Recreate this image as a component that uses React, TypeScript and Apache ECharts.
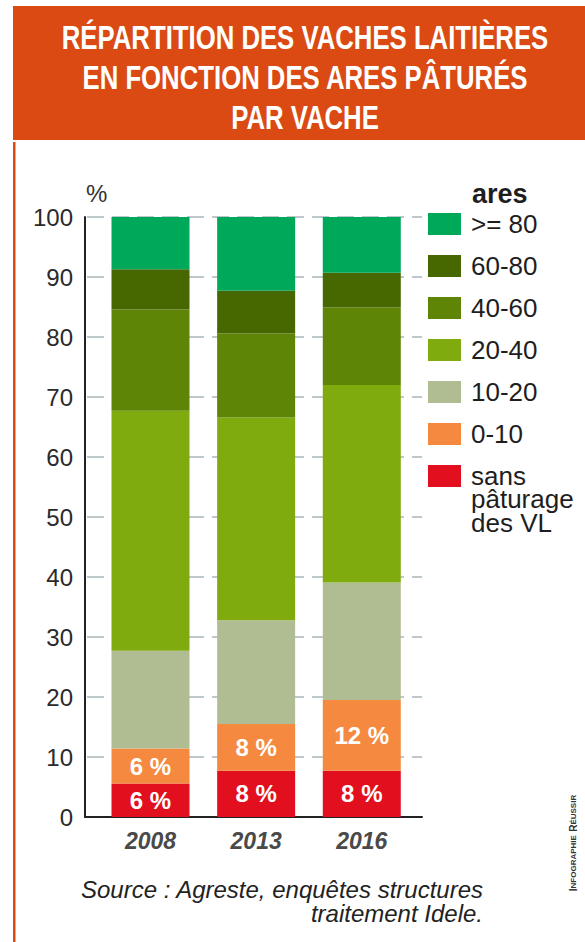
import React, { useEffect, useRef } from "react";
import * as echarts from "echarts";

const YEARS = ["2008", "2013", "2016"];
const YEAR_POS = [0, 1, 2];
const NAME_SANS = "sans pâturage des VL";
const SANS = [5.6, 7.7, 7.7];
const A0_10 = [5.8, 7.8, 11.8];
const A10_20 = [16.3, 17.3, 19.6];
const A20_40 = [40.0, 33.8, 32.9];
const A40_60 = [16.9, 14.0, 12.9];
const A60_80 = [6.7, 7.1, 5.8];
const A80 = [8.7, 12.3, 9.3];
const Y_MIN = 0;
const Y_MAX = 100;
const Y_STEP = 10;

const TITLE = "RÉPARTITION DES VACHES LAITIÈRES\nEN FONCTION DES ARES PÂTURÉS\nPAR VACHE";
const SOURCE = "Source : Agreste, enquêtes structures\ntraitement Idele.";
const SANS_REST = "pâturage\ndes VL";

const ORANGE = "#DA4A12";
const SANS_FONT = '"Liberation Sans", Arial, sans-serif';

const SERIES = [
  { name: NAME_SANS, values: SANS, color: "#E2101F", label: true },
  { name: "0-10", values: A0_10, color: "#F68940", label: true },
  { name: "10-20", values: A10_20, color: "#B0BC91", label: false },
  { name: "20-40", values: A20_40, color: "#80AB0E", label: false },
  { name: "40-60", values: A40_60, color: "#5E8505", label: false },
  { name: "60-80", values: A60_80, color: "#476700", label: false },
  { name: ">= 80", values: A80, color: "#00A859", label: false },
];

export default function App() {
  const ref = useRef<HTMLDivElement>(null);

  useEffect(() => {
    if (!ref.current) return;
    const chart = echarts.init(ref.current, null, { renderer: "svg" });

    const series = SERIES.map((s) => ({
      type: "bar",
      name: s.name,
      stack: "total",
      barWidth: 78,
      // value first so that it is the stacked dimension; position second
      data: s.values.map((v, i) => [v, YEAR_POS[i]]),
      encode: { x: 1, y: 0 },
      itemStyle: { color: s.color },
      label: s.label
        ? {
            show: true,
            position: "inside",
            formatter: (p: any) => Math.round(p.value[0]) + " %",
            color: "#ffffff",
            fontFamily: SANS_FONT,
            fontWeight: "bold",
            fontSize: 24,
          }
        : { show: false },
    }));

    const legendData = SERIES.slice()
      .reverse()
      .map((s) => ({ name: s.name }));

    chart.setOption({
      animation: false,
      backgroundColor: "#ffffff",
      grid: { left: 85, top: 217, width: 337, bottom: 125, containLabel: false },
      xAxis: {
        type: "value",
        min: -0.62,
        max: 2.57,
        axisLine: { show: true, onZero: false, lineStyle: { color: "#222222", width: 2 } },
        axisTick: { show: false },
        splitLine: { show: false },
        axisLabel: {
          customValues: YEAR_POS,
          formatter: (v: number) => YEARS[Math.round(v)] ?? "",
          fontFamily: SANS_FONT,
          fontWeight: "bold",
          fontStyle: "italic",
          fontSize: 23,
          color: "#4a4a4a",
          margin: 12,
        },
      },
      yAxis: {
        type: "value",
        min: Y_MIN,
        max: Y_MAX,
        interval: Y_STEP,
        name: "%",
        nameLocation: "end",
        nameGap: 24,
        nameTextStyle: {
          fontFamily: SANS_FONT,
          fontSize: 24,
          color: "#333333",
          align: "left",
          verticalAlign: "middle",
          padding: [0, 0, 0, 1],
        },
        axisLine: { show: true, onZero: false, lineStyle: { color: "#222222", width: 2 } },
        axisTick: { show: false },
        axisLabel: {
          fontFamily: SANS_FONT,
          fontSize: 24,
          color: "#2a2a2a",
          margin: 12,
        },
        splitLine: {
          show: true,
          lineStyle: { color: "#A9B5BC", width: 1.5, type: [17, 8], dashOffset: -2 },
        },
      },
      legend: {
        orient: "vertical",
        left: 428,
        top: 211,
        padding: 0,
        itemWidth: 33,
        itemHeight: 22,
        itemGap: 16,
        icon: "rect",
        selectedMode: false,
        data: legendData,
        formatter: (name: string) => (name === NAME_SANS ? "sans" : name),
        textStyle: {
          fontFamily: SANS_FONT,
          fontSize: 26,
          color: "#1e1e1e",
          lineHeight: 22,
          padding: [0, 0, 0, 5],
        },
      },
      graphic: [
        {
          type: "rect",
          shape: { x: 13, y: 6, width: 572, height: 134 },
          style: { fill: ORANGE },
          silent: true,
        },
        {
          type: "rect",
          shape: { x: 13, y: 142, width: 2.5, height: 800 },
          style: { fill: ORANGE },
          silent: true,
        },
        {
          type: "text",
          x: 305,
          y: 77,
          scaleX: 0.78,
          style: {
            text: TITLE,
            fill: "#ffffff",
            font: "bold 33px " + SANS_FONT,
            align: "center",
            verticalAlign: "middle",
            lineHeight: 40,
          },
          silent: true,
        },
        {
          type: "text",
          x: 472,
          y: 194,
          style: {
            text: "ares",
            fill: "#1e1e1e",
            font: "bold 27px " + SANS_FONT,
            align: "left",
            verticalAlign: "middle",
          },
          silent: true,
        },
        {
          type: "text",
          x: 471,
          y: 511,
          style: {
            text: SANS_REST,
            fill: "#1e1e1e",
            font: "26px " + SANS_FONT,
            align: "left",
            verticalAlign: "middle",
            lineHeight: 24,
          },
          silent: true,
        },
        {
          type: "text",
          x: 483,
          y: 901,
          style: {
            text: SOURCE,
            fill: "#222222",
            font: "italic 24px " + SANS_FONT,
            align: "right",
            verticalAlign: "middle",
            lineHeight: 24,
          },
          silent: true,
        },
        {
          type: "text",
          x: 573,
          y: 843,
          rotation: Math.PI / 2,
          style: {
            text: "{b|I}{s|NFOGRAPHIE} {b|R}{s|ÉUSSIR}",
            align: "center",
            verticalAlign: "middle",
            rich: {
              b: { fontFamily: SANS_FONT, fontSize: 10, fontWeight: "bold", fill: "#333333" },
              s: { fontFamily: SANS_FONT, fontSize: 8, fontWeight: "bold", fill: "#333333" },
            },
          },
          silent: true,
        },
      ],
      series,
    });

    return () => chart.dispose();
  }, []);

  return (
    <div
      ref={ref}
      style={{ position: "fixed", left: 0, top: 0, width: 585, height: 942 }}
    />
  );
}
